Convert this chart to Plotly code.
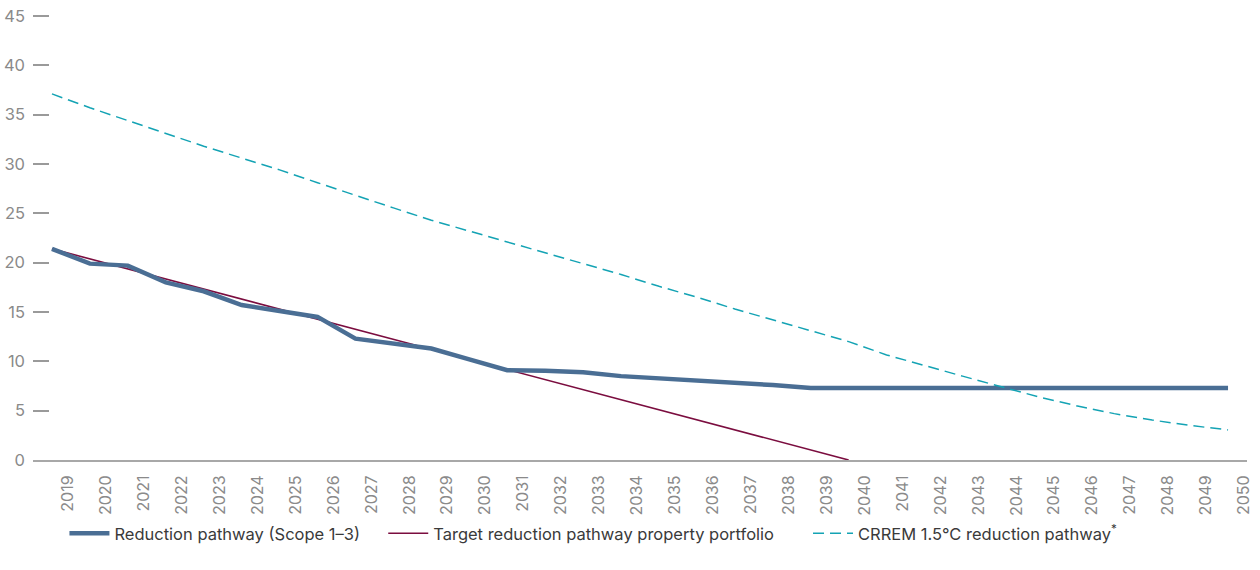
import plotly.graph_objects as go

# Years on the horizontal axis
years = list(range(2019, 2051))

# Reduction pathway (Scope 1–3)
reduction = [21.4, 19.9, 19.7, 18.0, 17.1, 15.7, 15.1, 14.5, 12.3, 11.8,
             11.3, 10.2, 9.1, 9.05, 8.9, 8.5, 8.3, 8.0, 7.9, 7.6,
             7.3, 7.3, 7.3, 7.3, 7.3, 7.3, 7.3, 7.3, 7.3, 7.3, 7.3, 7.3]

# Target reduction pathway property portfolio (start and net-zero year)
target_years = [2019, 2040]
target = [21.4, 0.0]

# CRREM 1.5°C reduction pathway
crrem = [37.1, 35.7, 34.4, 33.1, 31.8, 30.6, 29.4, 28.1, 26.8, 25.55,
         24.3, 23.2, 22.1, 21.0, 19.9, 18.8, 17.6, 16.5, 15.3, 14.2,
         13.1, 12.0, 10.65, 9.55, 8.5, 7.45, 6.4, 5.5, 4.7, 4.05, 3.5, 3.05]

y_ticks = [0, 5, 10, 15, 20, 25, 30, 35, 40, 45]

BLUE = "#4a6e94"
MAROON = "#7b0d3f"
TEAL = "#14a3b4"
FONT = "Inter, Liberation Sans, Arial, sans-serif"

fig = go.Figure()

# Thin target line first so the thick pathway is drawn over it
fig.add_trace(go.Scatter(
    x=target_years, y=target, mode="lines",
    name="Target reduction pathway property portfolio",
    line=dict(color=MAROON, width=1.6),
    showlegend=True,
    legend="legend2",
))
fig.add_trace(go.Scatter(
    x=years, y=reduction, mode="lines",
    name="Reduction pathway (Scope 1–3)",
    line=dict(color=BLUE, width=4.5),
    showlegend=True,
    legend="legend",
))
fig.add_trace(go.Scatter(
    x=years, y=crrem, mode="lines",
    name="CRREM 1.5°C reduction pathway<sup>*</sup>",
    line=dict(color=TEAL, width=1.5, dash="11px,6px"),
    showlegend=True,
    legend="legend3",
))

# Year labels sit slightly to the right of each data point
label_shift = 0.42

legend_common = dict(
    orientation="h", yanchor="middle", xanchor="left",
    itemwidth=40,
    font=dict(family=FONT, size=16.5, color="#3a3a3a"),
    bgcolor="rgba(0,0,0,0)", borderwidth=0,
)

fig.update_layout(
    width=1260, height=570,
    showlegend=True,
    margin=dict(l=33, r=13, t=14, b=110),
    paper_bgcolor="white", plot_bgcolor="white",
    font=dict(family=FONT, color="#8a8a8a"),
    xaxis=dict(
        range=[2018.5, 2050.5],
        tickmode="array",
        tickvals=[y + label_shift for y in years],
        ticktext=[str(y) for y in years],
        tickangle=-90,
        ticks="",
        ticklabelstandoff=7,
        automargin=False,
        showgrid=False, zeroline=False,
        showline=True, linecolor="#a8a8a8", linewidth=2,
        tickfont=dict(family=FONT, size=16, color="#8a8a8a"),
    ),
    yaxis=dict(
        range=[0, 45.2],
        tickmode="array", tickvals=y_ticks,
        ticks="inside", ticklen=16, tickwidth=1.5, tickcolor="#9a9a9a",
        showgrid=False, zeroline=False, showline=False,
        ticklabelstandoff=7,
        automargin=False,
        tickfont=dict(family=FONT, size=16.5, color="#8a8a8a"),
    ),
    legend=dict(x=0.0259, y=-0.165, **legend_common),
    legend2=dict(x=0.2885, y=-0.165, **legend_common),
    legend3=dict(x=0.6384, y=-0.165, **legend_common),
)

fig.write_html("out.html")
